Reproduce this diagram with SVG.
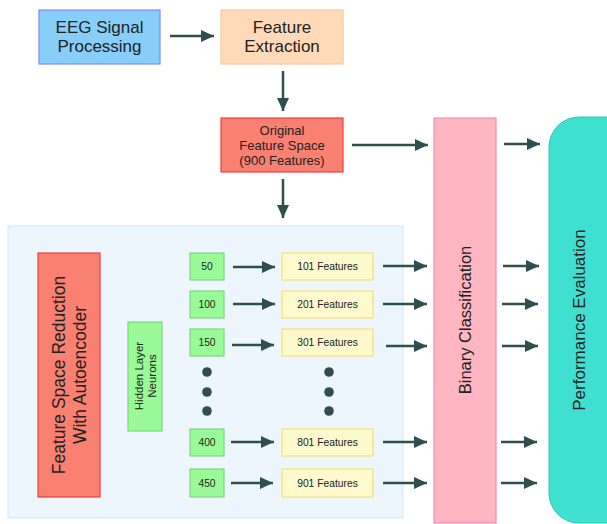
<svg xmlns="http://www.w3.org/2000/svg" width="607" height="524" viewBox="0 0 607 524">
<style>
text{font-family:"Liberation Sans",Arial,sans-serif;fill:#222;text-anchor:middle;dominant-baseline:central}
.big{font-size:17px}
.mid{font-size:13px}
.sm{font-size:10.3px}
.conn line{stroke:#2F4F4F;stroke-width:2.5;marker-end:url(#ah)}
.g{fill:#98FB98;stroke:#7DD87D;stroke-width:1.2}
.y{fill:#FFFACD;stroke:#F3DE78;stroke-width:1.2}
.dot{fill:#2F4F4F}
</style>
<defs>
<marker id="ah" markerUnits="userSpaceOnUse" markerWidth="14" markerHeight="12" refX="13" refY="6" orient="auto">
<path d="M0,0 L13,6 L0,12 Z" fill="#2F4F4F"/>
</marker>
</defs>
<rect id="container" x="8" y="226" width="395" height="292" fill="#EEF6FD" stroke="#CFE6F5" stroke-width="1"/>
<g id="eeg"><rect x="39" y="10" width="121" height="54" fill="#87CEFA" stroke="#7E8CF2" stroke-width="1.2"/>
<text class="big" x="99.5" y="27">EEG Signal</text><text class="big" x="99.5" y="46">Processing</text></g>
<g id="fe"><rect x="221" y="10" width="122" height="54" fill="#FFDAB9" stroke="#F7C79C" stroke-width="1.2"/>
<text class="big" x="282" y="27">Feature</text><text class="big" x="282" y="46">Extraction</text></g>
<g id="ofs"><rect x="221" y="118" width="122" height="54" fill="#FA8072" stroke="#F03C3C" stroke-width="1.2"/>
<text class="mid" x="282" y="130">Original</text><text class="mid" x="282" y="145">Feature Space</text><text class="mid" x="282" y="160">(900 Features)</text></g>
<g id="fsr"><rect x="38" y="253" width="62" height="244" fill="#FA8072" stroke="#F03C3C" stroke-width="1.2"/>
<text class="big" transform="translate(69,375) rotate(-90)" style="font-size:17.5px"><tspan x="0" y="-10.5">Feature Space Reduction</tspan><tspan x="0" y="11">With Autoencoder</tspan></text></g>
<g id="hln"><rect x="128" y="322" width="34" height="109" fill="#98FB98" stroke="#7DD87D" stroke-width="1.2"/>
<text transform="translate(145,376) rotate(-90)" style="font-size:11.5px"><tspan x="0" y="-6.5">Hidden Layer</tspan><tspan x="0" y="6.5">Neurons</tspan></text></g>
<g id="n50"><rect class="g" x="190" y="253" width="34" height="27"/><text class="sm" x="207" y="266.5">50</text></g>
<g id="n100"><rect class="g" x="190" y="291" width="34" height="27"/><text class="sm" x="207" y="304.5">100</text></g>
<g id="n150"><rect class="g" x="190" y="329" width="34" height="27"/><text class="sm" x="207" y="342.5">150</text></g>
<g id="n400"><rect class="g" x="190" y="429" width="34" height="27"/><text class="sm" x="207" y="442.5">400</text></g>
<g id="n450"><rect class="g" x="190" y="469" width="34" height="28"/><text class="sm" x="207" y="483">450</text></g>
<g id="f101"><rect class="y" x="282" y="253" width="91" height="27"/><text class="sm" x="327.5" y="266.5">101 Features</text></g>
<g id="f201"><rect class="y" x="282" y="291" width="91" height="27"/><text class="sm" x="327.5" y="304.5">201 Features</text></g>
<g id="f301"><rect class="y" x="282" y="329" width="91" height="27"/><text class="sm" x="327.5" y="342.5">301 Features</text></g>
<g id="f801"><rect class="y" x="282" y="429" width="91" height="27"/><text class="sm" x="327.5" y="442.5">801 Features</text></g>
<g id="f901"><rect class="y" x="282" y="469" width="91" height="28"/><text class="sm" x="327.5" y="483">901 Features</text></g>
<g id="dots">
<circle class="dot" cx="207" cy="372" r="4.8"/><circle class="dot" cx="207" cy="392" r="4.8"/><circle class="dot" cx="207" cy="411" r="4.8"/>
<circle class="dot" cx="329" cy="372" r="4.8"/><circle class="dot" cx="329" cy="392" r="4.8"/><circle class="dot" cx="329" cy="411" r="4.8"/>
</g>
<g id="bc"><rect x="434" y="118" width="62" height="405" fill="#FFB6C1" stroke="#EE8DBF" stroke-width="1.2"/>
<text transform="translate(465,320) rotate(-90)" style="font-size:16.5px">Binary Classification</text></g>
<g id="pe"><rect x="549" y="117" width="90" height="406" rx="30" ry="30" fill="#40E0D0" stroke="#2FC8B8" stroke-width="1"/>
<text transform="translate(579,320) rotate(-90)" style="font-size:17px">Performance Evaluation</text></g>
<g class="conn" id="connectors">
<line x1="170" y1="36" x2="214" y2="36"/>
<line x1="283" y1="71" x2="283" y2="111"/>
<line x1="352" y1="145" x2="428" y2="145"/>
<line x1="283" y1="179" x2="283" y2="218"/>
<line x1="233" y1="267" x2="275" y2="267"/>
<line x1="233" y1="304" x2="275" y2="304"/>
<line x1="232" y1="345" x2="274" y2="345"/>
<line x1="231" y1="442" x2="274" y2="442"/>
<line x1="231" y1="483" x2="273" y2="483"/>
<line x1="383" y1="266" x2="427" y2="266"/>
<line x1="383" y1="304" x2="427" y2="304"/>
<line x1="386" y1="346" x2="427" y2="346"/>
<line x1="383" y1="442" x2="427" y2="442"/>
<line x1="383" y1="483" x2="427" y2="483"/>
<line x1="504" y1="144" x2="540" y2="144"/>
<line x1="503" y1="266" x2="539" y2="266"/>
<line x1="502" y1="304" x2="538" y2="304"/>
<line x1="502" y1="346" x2="538" y2="346"/>
<line x1="501" y1="442" x2="537" y2="442"/>
<line x1="501" y1="483" x2="537" y2="483"/>
</g>
</svg>
